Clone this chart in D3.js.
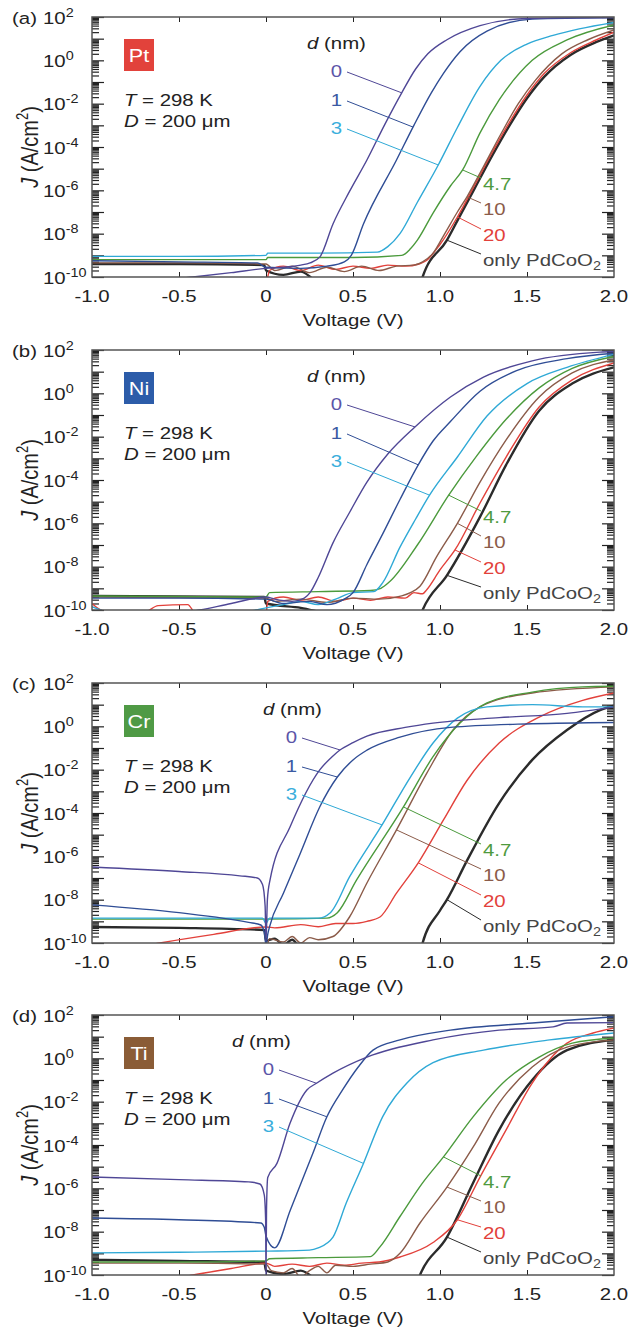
<!DOCTYPE html>
<html>
<head>
<meta charset="utf-8">
<script src="https://cdn.jsdelivr.net/npm/d3@7"></script>
<style>
  body { margin: 0; background: #fff; }
  svg text { font-family: "Liberation Sans", Arial, sans-serif; }
</style>
</head>
<body>
<svg id="fig" width="631" height="1331"></svg>
<script>
// J-V curves of PdCoO2 / metal junctions, |J| on log axis
// each series: [voltage (V), log10 J (A/cm2)]

const thicknesses = ["0", "1", "3", "4.7", "10", "20", "only PdCoO2"];
const xTicks = [-1, -0.5, 0, 0.5, 1, 1.5, 2];
const xTickLabels = ["-1.0", "-0.5", "0", "0.5", "1.0", "1.5", "2.0"];
const yTickExps = [2, 0, -2, -4, -6, -8, -10];

// (a) Pt
const pt = [
  [[-1,-10.4],[-0.42,-10],[-0.2,-9.8],[0,-9.6],[0.1,-9.55],[0.2,-9.45],[0.253,-9.35],[0.31,-9.07],[0.385,-7.55],[0.48,-6.05],[0.58,-4.6],[0.68,-3.0],[0.78,-1.5],[0.86,-0.4],[0.93,0.3],[1.04,0.95],[1.23,1.6],[1.5,1.93],[2.0,1.97]],
  [[-1,-9.25],[-0.5,-9.3],[-0.05,-9.35],[0,-9.55],[0.2,-9.6],[0.35,-9.5],[0.45,-9.3],[0.49,-9.0],[0.56,-7.55],[0.75,-4.6],[0.85,-3.0],[0.95,-1.5],[1.02,-0.6],[1.115,0.4],[1.27,1.35],[1.53,1.9],[2.0,1.97]],
  [[-1,-9.05],[-0.5,-9.05],[0,-9.0],[0.01,-8.9],[0.3,-8.9],[0.64,-8.85],[0.7,-8.6],[0.77,-8.0],[0.87,-6.55],[0.99,-4.83],[1.1,-3.1],[1.23,-1.2],[1.35,0.0],[1.5,0.75],[1.65,1.15],[1.8,1.45],[2.0,1.75]],
  [[-1,-9.2],[-0.5,-9.2],[0,-9.2],[0.01,-9.1],[0.5,-9.1],[0.78,-9.0],[0.83,-8.7],[0.87,-8.3],[0.96,-7.05],[1.06,-5.8],[1.13,-5.06],[1.23,-3.35],[1.34,-1.83],[1.53,0.0],[1.73,0.94],[2.0,1.63]],
  [[-1,-9.35],[-0.5,-9.35],[0,-9.4],[0.05,-9.7],[0.15,-9.5],[0.25,-9.8],[0.35,-9.55],[0.45,-9.75],[0.55,-9.5],[0.65,-9.7],[0.75,-9.5],[0.85,-9.45],[0.9,-9.3],[0.96,-8.9],[1.02,-8.1],[1.1,-7.0],[1.155,-6.3],[1.25,-4.9],[1.35,-3.4],[1.45,-2.0],[1.55,-0.9],[1.7,0.3],[1.85,0.95],[2.0,1.4]],
  [[-1,-10.5],[0,-10.3],[0.02,-9.7],[0.1,-9.5],[0.2,-9.7],[0.3,-9.45],[0.4,-9.65],[0.5,-9.5],[0.6,-9.6],[0.7,-9.45],[0.8,-9.5],[0.88,-9.4],[0.92,-9.25],[1.0,-8.5],[1.1,-7.23],[1.2,-5.75],[1.3,-4.25],[1.4,-2.85],[1.5,-1.6],[1.6,-0.6],[1.75,0.35],[1.9,0.95],[2.0,1.3]],
  [[-1,-9.4],[-0.5,-9.4],[-0.01,-9.45],[0,-9.7],[0.1,-9.9],[0.2,-9.75],[0.3,-10.2],[0.89,-10.3],[0.9,-10],[1.04,-8.3],[1.1,-7.4],[1.2,-5.9],[1.3,-4.4],[1.4,-3.0],[1.5,-1.75],[1.6,-0.75],[1.75,0.25],[1.9,0.85],[2.0,1.15]]
];

// (b) Ni
const ni = [
  [[-1,-10.5],[-0.38,-10],[-0.2,-9.7],[0,-9.4],[0.05,-9.5],[0.15,-9.6],[0.22,-9.45],[0.253,-9.2],[0.3,-8.5],[0.385,-6.9],[0.48,-5.5],[0.58,-4.1],[0.7,-2.8],[0.856,-1.55],[1.06,-0.17],[1.25,0.75],[1.53,1.5],[1.92,1.9],[2.0,1.93]],
  [[-1,-9.45],[-0.5,-9.45],[0,-9.5],[0.1,-9.7],[0.25,-9.6],[0.35,-9.75],[0.45,-9.5],[0.5,-9.2],[0.58,-7.9],[0.67,-6.5],[0.77,-4.9],[0.875,-3.3],[0.96,-2.2],[1.06,-1.3],[1.23,0.1],[1.44,1.05],[1.73,1.6],[2.0,1.85]],
  [[-1,-9.85],[-0.9,-10.1],[-0.3,-10.3],[0,-9.9],[0.1,-9.75],[0.2,-9.6],[0.3,-9.75],[0.4,-9.5],[0.5,-9.2],[0.62,-9.15],[0.67,-8.75],[0.77,-7.1],[0.86,-5.8],[0.94,-4.7],[1.1,-2.94],[1.27,-1.05],[1.5,0.45],[1.73,1.2],[2.0,1.8]],
  [[-1,-9.35],[-0.5,-9.38],[0,-9.4],[0.02,-9.2],[0.3,-9.15],[0.6,-9.1],[0.66,-9.0],[0.71,-8.7],[0.87,-7.0],[1.05,-4.7],[1.21,-2.9],[1.38,-1.2],[1.57,0.25],[1.76,1.15],[2.0,1.7]],
  [[-1,-9.4],[0,-9.45],[0.05,-9.6],[0.2,-9.5],[0.35,-9.65],[0.5,-9.45],[0.65,-9.5],[0.78,-9.35],[0.83,-9.2],[0.885,-8.9],[0.98,-7.55],[1.1,-6.0],[1.23,-4.1],[1.38,-2.15],[1.57,-0.17],[1.76,0.94],[2.0,1.54]],
  [[-1,-9.7],[-0.93,-10.05],[-0.7,-10.1],[-0.62,-9.8],[-0.45,-9.75],[-0.4,-10.2],[0,-10.2],[0.01,-9.6],[0.1,-9.4],[0.2,-9.55],[0.3,-9.4],[0.4,-9.6],[0.5,-9.45],[0.6,-9.55],[0.7,-9.4],[0.8,-9.45],[0.85,-9.2],[0.9,-9.25],[0.925,-9.05],[1.0,-8.15],[1.086,-7.23],[1.23,-5.06],[1.38,-2.94],[1.57,-0.63],[1.76,0.62],[2.0,1.4]],
  [[-1,-9.35],[-0.01,-9.4],[0,-9.7],[0.2,-9.9],[0.4,-10.2],[0.89,-10.2],[0.9,-10],[1.04,-8.4],[1.23,-5.7],[1.38,-3.3],[1.57,-0.8],[1.76,0.45],[2.0,1.2]]
];

// (c) Cr
const cr = [
  [[-1,-6.49],[-0.5,-6.7],[-0.15,-6.9],[-0.05,-7.0],[-0.02,-7.3],[-0.005,-8.3],[0,-9.9],[0.008,-8.0],[0.023,-7.1],[0.138,-4.65],[0.31,-2.0],[0.38,-1.4],[0.425,-1.09],[0.5,-0.75],[0.58,-0.45],[0.8,-0.05],[0.96,0.15],[1.34,0.4],[1.73,0.6],[2.0,0.9]],
  [[-1,-8.24],[-0.5,-8.6],[-0.1,-9.05],[-0.03,-9.17],[-0.01,-9.5],[0,-10.1],[0.01,-9.6],[0.02,-9.26],[0.1,-7.7],[0.195,-5.9],[0.31,-3.7],[0.41,-2.34],[0.5,-1.55],[0.58,-1.1],[0.77,-0.5],[1.06,-0.05],[1.53,0.12],[2.0,0.18]],
  [[-1,-8.85],[-0.5,-8.85],[-0.02,-8.85],[0,-9.1],[0.02,-8.85],[0.3,-8.85],[0.37,-8.6],[0.48,-6.95],[0.667,-4.55],[0.83,-2.34],[0.96,-0.77],[1.1,0.38],[1.27,0.9],[1.53,1.0],[1.82,0.9],[2.0,0.9]],
  [[-1,-8.9],[-0.5,-8.9],[0,-8.9],[0.35,-8.85],[0.41,-8.6],[0.52,-7.1],[0.79,-3.72],[0.96,-1.4],[1.115,0.15],[1.27,1.08],[1.53,1.58],[1.82,1.82],[2.0,1.85]],
  [[-1,-10.5],[0,-10.3],[0.02,-9.8],[0.1,-9.95],[0.15,-9.7],[0.2,-10.0],[0.25,-9.75],[0.3,-9.85],[0.385,-9.7],[0.48,-8.8],[0.58,-7.23],[0.75,-4.78],[0.925,-2.15],[1.075,-0.17],[1.23,0.9],[1.53,1.54],[2.0,1.82]],
  [[-1,-10.6],[-0.61,-10],[-0.3,-9.6],[0,-9.26],[0.05,-9.3],[0.2,-9.15],[0.3,-9.25],[0.4,-9.1],[0.5,-9.1],[0.58,-9.0],[0.655,-8.8],[0.75,-7.7],[0.875,-6.3],[1.02,-4.32],[1.155,-2.5],[1.34,-0.77],[1.57,0.43],[1.82,1.2],[2.0,1.54]],
  [[-1,-9.26],[-0.5,-9.3],[-0.01,-9.4],[0,-9.9],[0.05,-9.8],[0.1,-10.1],[0.15,-9.85],[0.2,-10.2],[0.89,-10.3],[0.9,-10],[1.0,-8.5],[1.04,-8.0],[1.155,-6.2],[1.34,-3.54],[1.53,-1.55],[1.73,-0.17],[1.92,0.75],[2.0,0.95]]
];

// (d) Ti
const ti = [
  [[-1,-5.48],[-0.5,-5.6],[-0.1,-5.7],[-0.035,-5.8],[-0.01,-6.3],[-0.002,-7.5],[0,-10.2],[0.003,-7.0],[0.01,-5.5],[0.063,-4.85],[0.138,-3.0],[0.235,-1.46],[0.29,-1.15],[0.385,-0.68],[0.58,0.06],[0.96,0.85],[1.34,1.3],[1.65,1.45],[1.73,1.63],[2.0,1.65]],
  [[-1,-7.37],[-0.5,-7.45],[-0.03,-7.6],[-0.01,-7.8],[0,-8.2],[0.05,-8.75],[0.14,-7.0],[0.27,-4.37],[0.35,-2.7],[0.44,-1.46],[0.53,-0.4],[0.615,0.38],[0.77,0.85],[1.06,1.3],[1.53,1.63],[2.0,1.92]],
  [[-1,-8.98],[-0.5,-8.95],[0,-8.9],[0.25,-8.85],[0.3,-8.75],[0.385,-8.25],[0.46,-6.7],[0.56,-4.85],[0.67,-2.7],[0.81,-1.14],[0.96,-0.2],[1.25,0.38],[1.63,0.85],[2.0,1.17]],
  [[-1,-9.4],[-0.5,-9.4],[0,-9.35],[0.02,-9.25],[0.3,-9.2],[0.6,-9.15],[0.655,-8.7],[0.77,-7.3],[0.9,-5.75],[1.02,-4.55],[1.19,-2.7],[1.38,-1.0],[1.57,0.06],[1.76,0.7],[2.0,0.94]],
  [[-1,-9.45],[-0.5,-9.45],[0,-9.5],[0.03,-9.8],[0.1,-9.9],[0.15,-9.7],[0.2,-10.1],[0.25,-9.8],[0.3,-9.6],[0.35,-9.9],[0.4,-9.55],[0.5,-9.6],[0.6,-9.5],[0.7,-9.4],[0.77,-9.0],[0.885,-7.6],[1.04,-5.94],[1.19,-4.1],[1.34,-2.06],[1.53,-0.4],[1.73,0.52],[2.0,0.85]],
  [[-1,-11],[-0.42,-10],[-0.2,-9.7],[0,-9.45],[0.05,-9.6],[0.15,-9.5],[0.25,-9.6],[0.35,-9.45],[0.45,-9.55],[0.55,-9.45],[0.65,-9.4],[0.77,-9.17],[0.96,-8.5],[1.1,-7.45],[1.23,-5.48],[1.38,-3.3],[1.53,-1.14],[1.73,0.7],[1.88,1.17],[2.0,1.4]],
  [[-1,-9.3],[-0.5,-9.35],[-0.01,-9.4],[0,-9.8],[0.1,-9.95],[0.2,-9.8],[0.3,-10.2],[0.87,-10.3],[0.885,-10],[1.04,-8.25],[1.19,-5.75],[1.34,-3.3],[1.53,-1.0],[1.73,0.38],[2.0,0.85]]
];

// line colours, same order as thicknesses
const colors = ["#4f4796", "#2f4d95", "#2fa9d6", "#4b9a3c", "#8b5b49", "#e2413b", "#2b2b2b"];
const textColors = ["#5b55a8", "#3a5aa3", "#3aaedc", "#4f9a3e", "#8b5b49", "#e2413b", "#444"];

const panels = [
  { tag: "(a)", metal: "Pt", box: "#e2423b", top: 17,   data: pt, dnmX: 215, labX: 250, hit: [0.78, 0.845, 0.99, 1.13, 1.155, 1.10, 1.04] },
  { tag: "(b)", metal: "Ni", box: "#2c5ca9", top: 350,  data: ni, dnmX: 215, labX: 250, hit: [0.856, 0.875, 0.94, 1.05, 1.10, 1.086, 1.04] },
  { tag: "(c)", metal: "Cr", box: "#4f9a45", top: 683,  data: cr, dnmX: 171, labX: 205, hit: [0.425, 0.41, 0.667, 0.79, 0.75, 0.875, 1.04] },
  { tag: "(d)", metal: "Ti", box: "#8a5c36", top: 1015, data: ti, dnmX: 140, labX: 182, hit: [0.29, 0.35, 0.56, 1.02, 1.04, 1.10, 1.04] }
];

const L = 92, R = 614, PH = 260;
const SX = 1.2;          // the figure is stretched sideways
const FS = 17;
const svg = d3.select("#fig");
const x = d3.scaleLinear().domain([-1, 2]).range([L, R]);

function txt(g, px, py, anchor) {
  return g.append("text")
    .attr("transform", `translate(${px},${py}) scale(${SX},1)`)
    .attr("text-anchor", anchor || "start")
    .attr("font-size", FS);
}

function interp(s, v) {
  for (let i = 1; i < s.length; i++) {
    if (s[i][0] >= v) {
      const t = (v - s[i-1][0]) / (s[i][0] - s[i-1][0]);
      return s[i-1][1] + t * (s[i][1] - s[i-1][1]);
    }
  }
  return s[s.length-1][1];
}

const decades = d3.range(-10, 3).map(e => Math.pow(10, e));
const minors = [];
d3.range(-10, 2).forEach(e => { for (let k = 2; k <= 9; k++) minors.push(k * Math.pow(10, e)); });

panels.forEach((p, pi) => {
  const top = p.top, bot = top + PH;
  const y = d3.scaleLog().domain([1e-10, 1e2]).range([bot, top]);
  const g = svg.append("g");

  g.append("clipPath").attr("id", "clip" + pi)
    .append("rect").attr("x", L).attr("y", top).attr("width", R - L).attr("height", PH);

  // ticks
  const tk = (w) => (sel) => sel.call(s => s.select(".domain").remove())
    .selectAll("line").attr("stroke", "#222").attr("stroke-width", w);
  g.append("g").attr("transform", `translate(${L},0)`)
    .call(d3.axisLeft(y).tickValues(decades).tickSize(-12).tickFormat("")).call(tk(1.2));
  g.append("g").attr("transform", `translate(${L},0)`)
    .call(d3.axisLeft(y).tickValues(minors).tickSize(-7).tickFormat("")).call(tk(1.2));
  g.append("g").attr("transform", `translate(${R},0)`)
    .call(d3.axisRight(y).tickValues(decades).tickSize(-12).tickFormat("")).call(tk(1.2));
  g.append("g").attr("transform", `translate(${R},0)`)
    .call(d3.axisRight(y).tickValues(minors).tickSize(-7).tickFormat("")).call(tk(1.2));
  g.append("g").attr("transform", `translate(0,${bot})`)
    .call(d3.axisBottom(x).tickValues(xTicks.slice(1, -1)).tickSize(-5).tickFormat("")).call(tk(1));
  g.append("g").attr("transform", `translate(0,${top})`)
    .call(d3.axisTop(x).tickValues(xTicks.slice(1, -1)).tickSize(-5).tickFormat("")).call(tk(1));

  // curves
  const line = d3.line()
    .x(d => x(d[0]))
    .y(d => y(Math.pow(10, d[1])))
    .curve(d3.curveMonotoneX);
  const order = [6, 5, 4, 3, 2, 1, 0];
  const cg = g.append("g").attr("clip-path", `url(#clip${pi})`);
  order.forEach(i => {
    cg.append("path").datum(p.data[i])
      .attr("d", line)
      .attr("fill", "none")
      .attr("stroke", colors[i])
      .attr("stroke-width", i === 6 ? 2.4 : 1.4)
      .attr("stroke-linejoin", "round");
  });

  g.append("rect").attr("x", L).attr("y", top).attr("width", R - L).attr("height", PH)
    .attr("fill", "none").attr("stroke", "#555").attr("stroke-width", 1.5);

  // tick labels
  yTickExps.forEach(e => {
    const t = txt(g, 43, y(Math.pow(10, e)) + 6.5, "start").attr("fill", "#222");
    t.append("tspan").text("10");
    t.append("tspan").attr("font-size", 12).attr("dy", -7).text(e);
  });
  xTicks.forEach((v, i) => {
    txt(g, x(v), bot + 25, "middle").attr("fill", "#222").text(xTickLabels[i]);
  });
  txt(g, 12, top + 7, "start").attr("fill", "#222").text(p.tag);

  txt(g, x(0.5), bot + 49, "middle").attr("fill", "#222").text("Voltage (V)");

  const yt = g.append("text")
    .attr("transform", `translate(38,${(top + bot) / 2}) scale(${SX},1) rotate(-90)`)
    .attr("text-anchor", "middle").attr("font-size", 20).attr("fill", "#222");
  yt.append("tspan").attr("font-style", "italic").text("J");
  yt.append("tspan").text(" (A/cm");
  yt.append("tspan").attr("font-size", 13).attr("dy", -8).text("2");
  yt.append("tspan").attr("dy", 8).text(")");

  // metal box and conditions
  g.append("rect").attr("x", L + 32).attr("y", top + 22).attr("width", 30).attr("height", 32)
    .attr("fill", p.box);
  txt(g, L + 47, top + 45, "middle").attr("fill", "#fff").attr("font-size", 18).text(p.metal);
  const t1 = txt(g, L + 32, top + 89, "start").attr("fill", "#222");
  t1.append("tspan").attr("font-style", "italic").text("T");
  t1.append("tspan").text(" = 298 K");
  const t2 = txt(g, L + 32, top + 110, "start").attr("fill", "#222");
  t2.append("tspan").attr("font-style", "italic").text("D");
  t2.append("tspan").text(" = 200 \u03bcm");

  // d (nm) legend
  const dn = txt(g, L + p.dnmX, top + 32, "start").attr("fill", "#222");
  dn.append("tspan").attr("font-style", "italic").text("d");
  dn.append("tspan").text(" (nm)");

  const leftBase = [60, 89, 117];
  [0, 1, 2].forEach(i => {
    const by = top + leftBase[i];
    txt(g, L + p.labX, by, "end").attr("fill", textColors[i]).text(thicknesses[i]);
    const v = p.hit[i];
    g.append("line")
      .attr("x1", L + p.labX + 5).attr("y1", by - 5)
      .attr("x2", x(v)).attr("y2", y(Math.pow(10, interp(p.data[i], v))))
      .attr("stroke", colors[i]).attr("stroke-width", 1);
  });

  const rightBase = [173, 198, 224, 249];
  [3, 4, 5, 6].forEach((i, j) => {
    const by = top + rightBase[j];
    const t = txt(g, L + 391, by, "start").attr("fill", textColors[i]);
    if (i === 6) {
      t.append("tspan").text("only PdCoO");
      t.append("tspan").attr("font-size", 12).attr("dy", 4).text("2");
    } else {
      t.text(thicknesses[i]);
    }
    const v = p.hit[i];
    g.append("line")
      .attr("x1", x(v)).attr("y1", y(Math.pow(10, interp(p.data[i], v))))
      .attr("x2", L + 389).attr("y2", by - 12)
      .attr("stroke", colors[i]).attr("stroke-width", 1);
  });
});
</script>
</body>
</html>
